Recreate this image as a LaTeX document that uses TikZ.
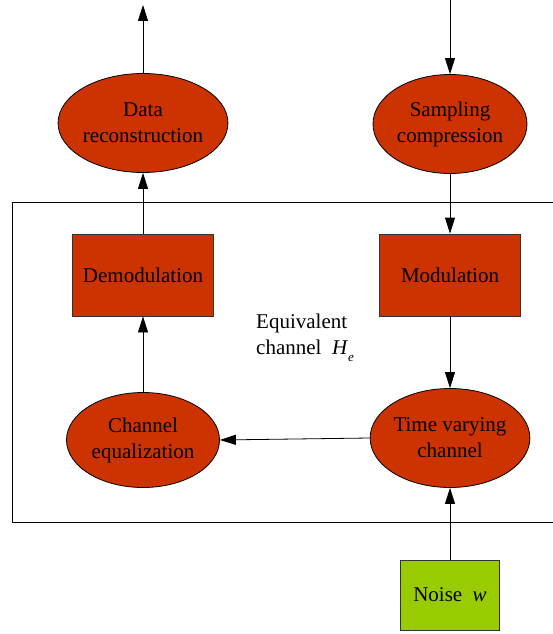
\documentclass[tikz,border=0pt]{standalone}
\usepackage{fontspec}
\setmainfont{Liberation Serif}
\usetikzlibrary{arrows.meta,shapes.geometric}
\definecolor{blockred}{HTML}{CC3300}
\definecolor{noisegreen}{HTML}{99CC00}
\begin{document}
\begin{tikzpicture}[x=1pt,y=-1pt,
  every node/.style={font=\fontsize{21}{26}\selectfont},
  ell/.style={ellipse,draw=black,line width=0.8pt,fill=blockred,align=center,inner sep=0pt},
  blk/.style={rectangle,draw=black!80,line width=0.8pt,fill=blockred,align=center,inner sep=0pt},
  arr/.style={-{Triangle[length=16pt,width=10pt]},line width=0.8pt}]
\useasboundingbox (0,0) rectangle (553,634);
\draw[line width=0.8pt] (560,202) -- (12,202) -- (12,522) -- (560,522);
\node[ell,minimum width=153pt,minimum height=99pt] (dr) at (143,123) {Data\\reconstruction};
\node[ell,minimum width=154pt,minimum height=99pt] (sc) at (450,124) {Sampling\\compression};
\node[blk,minimum width=141pt,minimum height=82pt] (dm) at (143,275) {Demodulation};
\node[blk,minimum width=141pt,minimum height=82pt] (md) at (450,275) {Modulation};
\node[ell,minimum width=153pt,minimum height=95pt] (ce) at (143,440) {Channel\\equalization};
\node[ell,minimum width=155pt,minimum height=99pt] (tv) at (450,438) {Time varying\\channel};
\node[blk,fill=noisegreen,minimum width=99pt,minimum height=70pt] (nz) at (450,595) {Noise~~\textit{w}};
\node[align=left,anchor=north west,inner sep=0pt] (lb) at (256,314) {Equivalent\\channel~~\textit{H}\raisebox{-0.3em}{\fontsize{13}{13}\selectfont\textit{e}}};
\coordinate (top1) at (143,5);
\coordinate (top2) at (450,0);
\draw[arr] (dr.north) -- (top1);
\draw[arr] (top2) -- (sc.north);
\draw[arr] (dm.north) -- (dr.south);
\draw[arr] (sc.south) -- (md.north);
\draw[arr] (ce.north) -- (dm.south);
\draw[arr] (md.south) -- (tv.north);
\draw[arr] (tv.west) -- (ce.east);
\draw[arr] (nz.north) -- (tv.south);
\end{tikzpicture}
\end{document}
